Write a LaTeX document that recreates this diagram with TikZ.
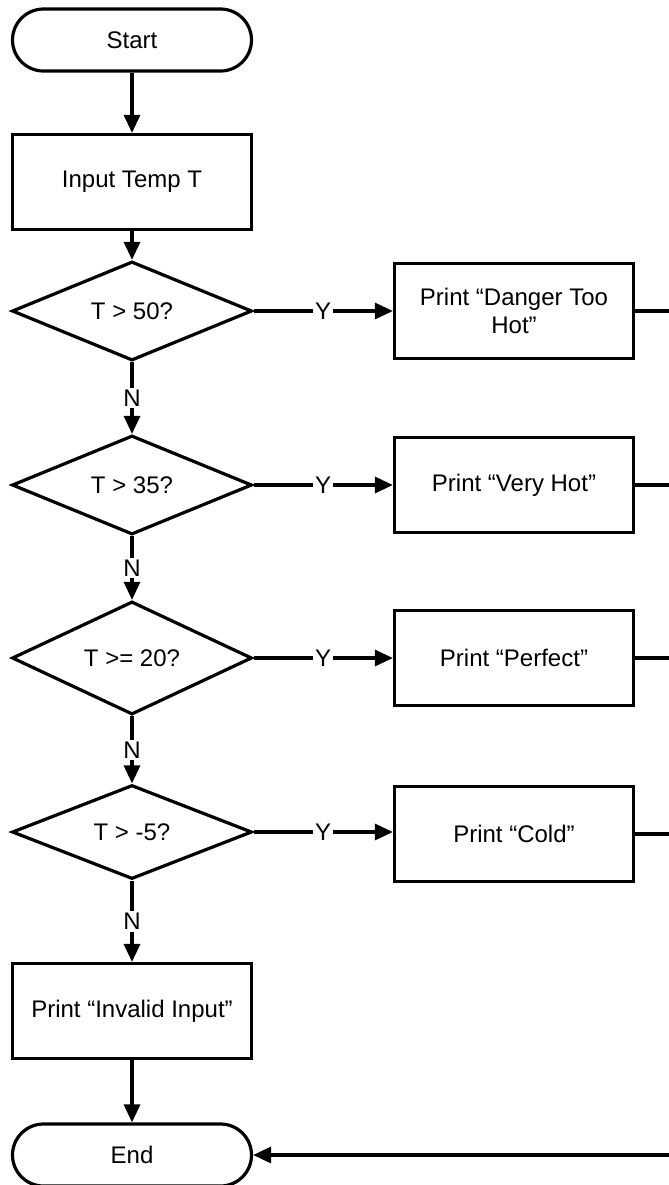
\documentclass[tikz,border=0pt]{standalone}
\usepackage{fontspec}
\setmainfont{Liberation Sans}
\usepackage{tikz}
\usetikzlibrary{shapes.geometric, arrows.meta, positioning, calc}
\usepackage{xcolor}
\definecolor{ink}{HTML}{000000}

\begin{document}
\begin{tikzpicture}[x=0.5pt, y=-0.5pt,
    font=\fontsize{12}{14}\selectfont,
    terminal/.style={draw=ink, line width=1.6pt, rounded corners=15.5pt, minimum width=119.5pt, minimum height=31pt, inner sep=0pt},
    process/.style={draw=ink, line width=1.6pt, minimum width=119.5pt, minimum height=47.5pt, align=center, inner sep=0pt},
    decision/.style={draw=ink, diamond, line width=1.6pt, minimum width=120pt, minimum height=47pt, inner sep=0pt},
    flow/.style={draw=ink, line width=1.6pt, -{Triangle[length=9pt, width=8pt]}},
    link/.style={draw=ink, line width=1.6pt},
    yn/.style={fill=white, inner sep=1pt}]
    \useasboundingbox (0,0) rectangle (669,1185);

    % Left column
    \node[terminal] (start) at (132, 40) {Start};
    \node[process] (input) at (132, 182) {Input Temp T};
    \node[decision] (d1) at (132, 311) {T > 50?};
    \node[decision] (d2) at (132, 485) {T > 35?};
    \node[decision] (d3) at (132, 658) {T >= 20?};
    \node[decision] (d4) at (132, 832) {T > -5?};
    \node[process] (invalid) at (132, 1011) {Print “Invalid Input”};
    \node[terminal] (end) at (132, 1155) {End};

    % Right column
    \node[process] (p1) at (514, 311) {Print “Danger Too\\Hot”};
    \node[process] (p2) at (514, 485) {Print “Very Hot”};
    \node[process] (p3) at (514, 658) {Print “Perfect”};
    \node[process] (p4) at (514, 834) {Print “Cold”};

    % Edge of the page, where the collector runs
    \coordinate (r1) at (672, 311);
    \coordinate (r2) at (672, 485);
    \coordinate (r3) at (672, 658);
    \coordinate (r4) at (672, 834);
    \coordinate (rend) at (672, 1155);

    \draw[flow] (start) -- (input);
    \draw[flow] (input) -- (d1);
    \draw[flow] (d1) -- node[yn] {Y} (p1);
    \draw[flow] (d2) -- node[yn] {Y} (p2);
    \draw[flow] (d3) -- node[yn] {Y} (p3);
    \draw[flow] (d4.east) -- node[yn] {Y} (d4.east -| p4.west);
    \draw[flow] (d1) -- node[yn] {N} (d2);
    \draw[flow] (d2) -- node[yn] {N} (d3);
    \draw[flow] (d3) -- node[yn] {N} (d4);
    \draw[flow] (d4) -- node[yn] {N} (invalid);
    \draw[flow] (invalid) -- (end);

    % Outputs back to End
    \draw[link] (p1.east) -- (r1);
    \draw[link] (p2.east) -- (r2);
    \draw[link] (p3.east) -- (r3);
    \draw[link] (p4.east) -- (r4);
    \draw[flow] (rend) -- (end);
\end{tikzpicture}
\end{document}
